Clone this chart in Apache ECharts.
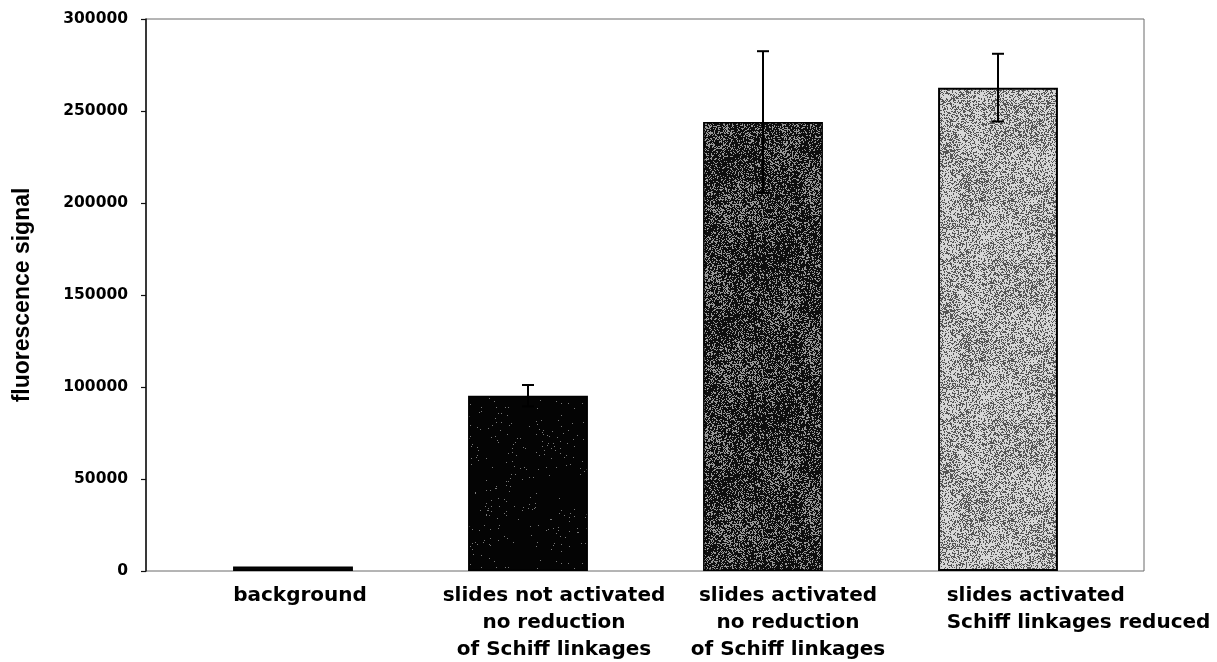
<!DOCTYPE html>
<html>
<head>
<meta charset="utf-8">
<script src="https://cdn.jsdelivr.net/npm/echarts@6/dist/echarts.min.js"></script>
<style>
  html, body { margin: 0; padding: 0; background: #fff; }
  #chart { width: 1217px; height: 662px; }
</style>
</head>
<body>
<div id="chart"></div>
<script>
// Fluorescence signal per slide treatment, with error bars
const categories = [
  'background',
  'slides not activated\nno reduction\nof Schiff linkages',
  'slides activated\nno reduction\nof Schiff linkages',
  'slides activated\nSchiff linkages reduced'
];
const signal = [2500, 95300, 244000, 262700];
const errors = [0, 5800, 38500, 18400];
const yMin = 0;
const yMax = 300000;
const yStep = 50000;

// label nudges (left padding) so each caption sits where the layout wants it
const labelPadLeft = [14, 52, 50, 161];

// deterministic grain used to give the bars a stippled print look
function grain(x, y, s) {
  const v = Math.sin(x * 12.9898 + y * 78.233 + s * 37.719) * 43758.5453;
  return v - Math.floor(v);
}
function stipple(base, fleck, density, seed, blotch) {
  const size = 160;
  const c = document.createElement('canvas');
  c.width = size; c.height = size;
  const ctx = c.getContext('2d');
  const img = ctx.createImageData(size, size);
  for (let y = 0; y < size; y++) {
    for (let x = 0; x < size; x++) {
      const m = blotch * (Math.sin(x / 17 + y / 29) * 0.5 + Math.sin(y / 13 - x / 41) * 0.5);
      const on = grain(x, y, seed) < density + m;
      const col = on ? fleck : base;
      const i = (y * size + x) * 4;
      img.data[i] = col; img.data[i + 1] = col; img.data[i + 2] = col; img.data[i + 3] = 255;
    }
  }
  ctx.putImageData(img, 0, 0);
  return { image: c, repeat: 'repeat' };
}

const fills = [
  '#050505',
  stipple(4, 120, 0.012, 1, 0.012),
  stipple(14, 150, 0.30, 2, 0.12),
  stipple(215, 85, 0.38, 3, 0.1)
];

const FONT = 'DejaVu Sans';
const chart = echarts.init(document.getElementById('chart'), null, { renderer: 'canvas' });

chart.setOption({
  animation: false,
  backgroundColor: '#ffffff',
  grid: [
    { left: 146, right: 73, top: 19, bottom: 91, outerBoundsMode: 'none', show: true, borderColor: '#6a6a6a', borderWidth: 1, backgroundColor: 'transparent' },
    { left: 175.5, right: 101.5, top: 19, bottom: 91, outerBoundsMode: 'none' }
  ],
  xAxis: [
    { gridIndex: 0, type: 'value', show: false, min: 0, max: 1 },
    {
      gridIndex: 1,
      type: 'category',
      data: categories.map((c, i) => ({ value: c, textStyle: { padding: [0, 0, 0, labelPadLeft[i]] } })),
      axisLine: { show: false },
      axisTick: { show: false },
      axisLabel: {
        interval: 0,
        hideOverlap: false,
        margin: 11,
        color: '#000',
        fontFamily: FONT,
        fontWeight: 'bold',
        fontSize: 20,
        lineHeight: 27,
        formatter: (v, i) => i === 3 ? v.split('\n').map(s => '{l|' + s + '}').join('\n') : v,
        rich: {
          l: { align: 'left', color: '#000', fontFamily: FONT, fontWeight: 'bold', fontSize: 20, lineHeight: 27 }
        }
      }
    }
  ],
  yAxis: [
    {
      gridIndex: 0,
      type: 'value',
      min: yMin, max: yMax, interval: yStep,
      name: 'fluorescence signal',
      nameLocation: 'middle',
      nameRotate: 90,
      nameGap: 112,
      nameTextStyle: { color: '#000', fontFamily: 'Liberation Sans', fontWeight: 'bold', fontSize: 23 },
      axisLine: { show: true, lineStyle: { color: '#111', width: 1.5 } },
      axisTick: { show: true, length: 5, lineStyle: { color: '#111', width: 1.2 } },
      splitLine: { show: false },
      axisLabel: {
        margin: 18, color: '#000', fontFamily: FONT, fontWeight: 'bold', fontSize: 15.5,
        formatter: v => String(v)
      }
    },
    { gridIndex: 1, type: 'value', min: yMin, max: yMax, show: false }
  ],
  series: [
    {
      type: 'bar',
      xAxisIndex: 1,
      yAxisIndex: 1,
      barWidth: '51%',
      data: signal.map((v, i) => ({
        value: v,
        itemStyle: { color: fills[i], borderColor: '#000', borderWidth: i === 3 ? 2 : 1.5 }
      }))
    },
    {
      type: 'custom',
      xAxisIndex: 1,
      yAxisIndex: 1,
      z: 5,
      data: signal.map((v, i) => [i, v, errors[i]]),
      renderItem: (params, api) => {
        const err = api.value(2);
        if (!err) return null;
        const x = api.coord([api.value(0), 0])[0];
        const hi = api.coord([api.value(0), api.value(1) + err])[1];
        const lo = api.coord([api.value(0), api.value(1) - err])[1];
        const half = 6;
        const st = { stroke: '#000', lineWidth: 2 };
        return {
          type: 'group',
          children: [
            { type: 'line', shape: { x1: x, y1: hi, x2: x, y2: lo }, style: st },
            { type: 'line', shape: { x1: x - half, y1: hi, x2: x + half, y2: hi }, style: st },
            { type: 'line', shape: { x1: x - half, y1: lo, x2: x + half, y2: lo }, style: st }
          ]
        };
      }
    }
  ]
});
</script>
</body>
</html>
